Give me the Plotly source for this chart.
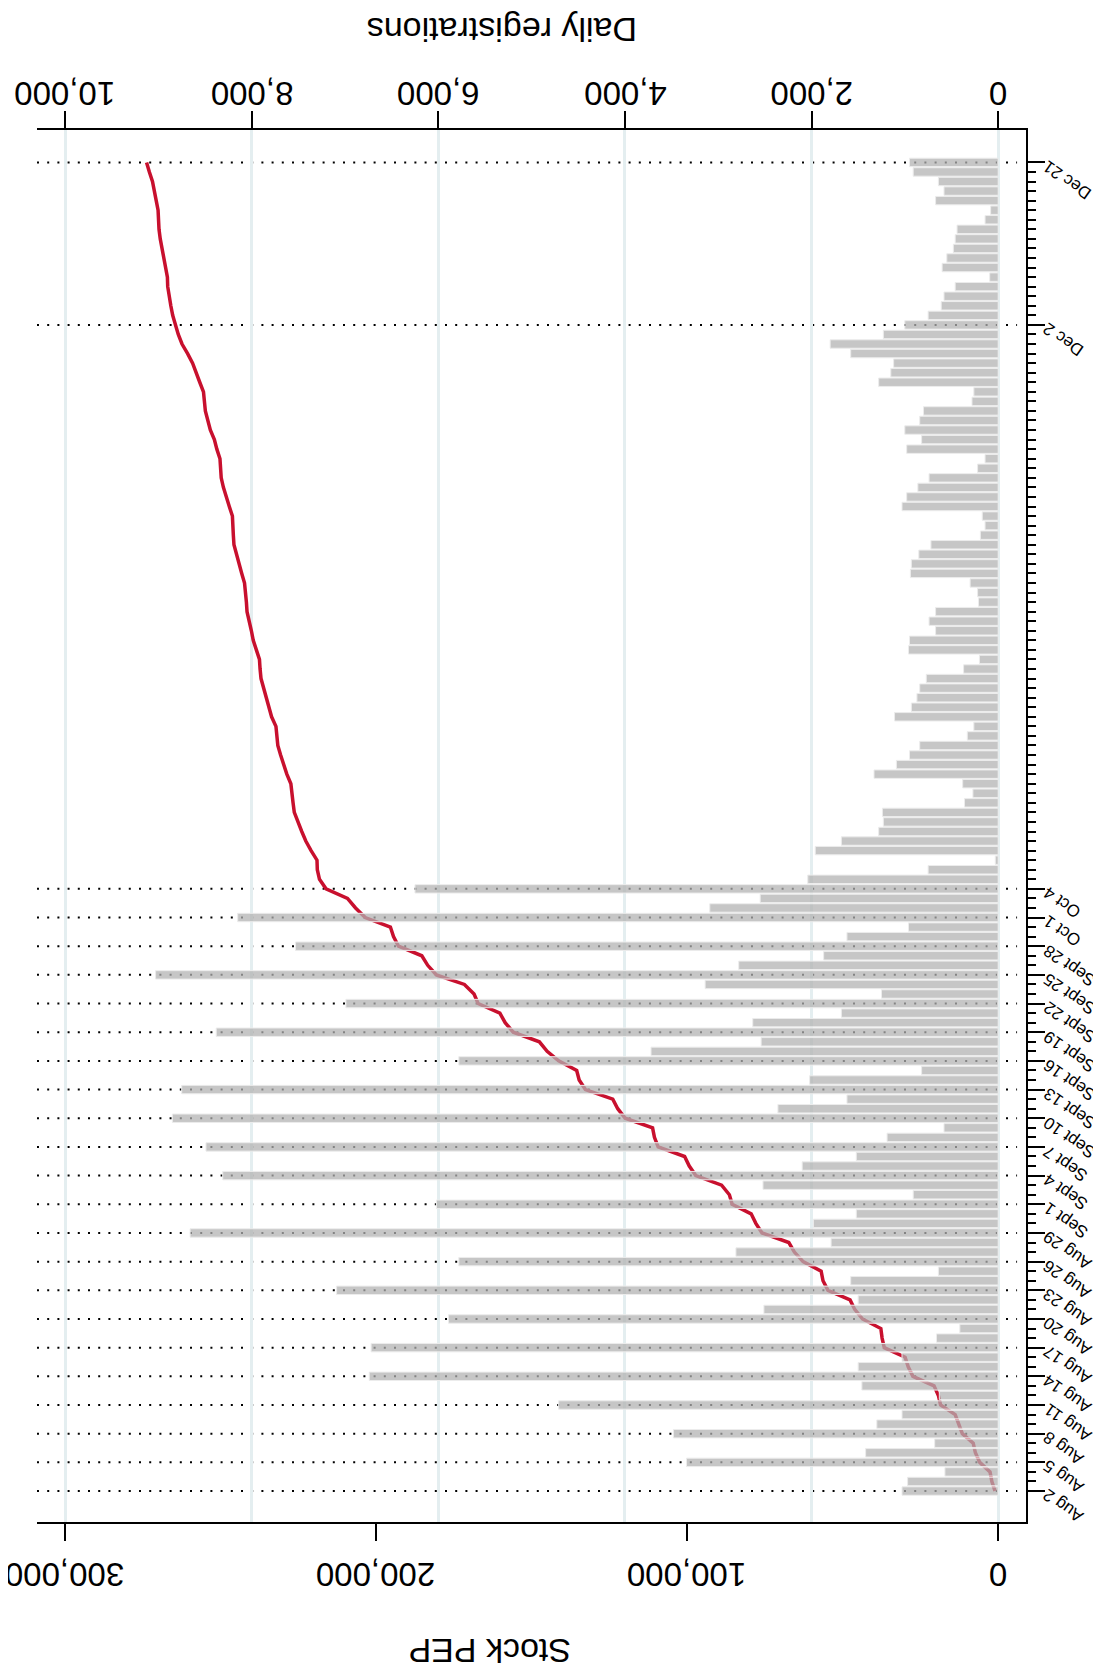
import math
import plotly.graph_objects as go

# ---------------- data ----------------
daily = [1030, 970, 570, 3340, 1420, 680, 3480, 1300, 1030, 4710,
         630, 1460, 6740, 1500, 1030, 6720, 660, 410, 5890, 2510,
         1500, 7090, 1580, 640, 5780, 2810, 1790, 8660, 1980, 1520,
         6020, 910, 2520, 8310, 2100, 1520, 8490, 1190, 580, 8850,
         2360, 1620, 8750, 2020, 820, 5780, 3720, 2540, 8380, 2630,
         1680, 6990, 1250, 3140, 9030, 2780, 1870, 7530, 1620, 960,
         8150, 3090, 2550, 6250, 2040, 750, 30, 1960, 1680, 1280,
         1230, 1240, 360, 270, 380, 1330, 1090, 950, 840, 330,
         260, 1110, 930, 870, 840, 770, 370, 200, 960, 950,
         670, 740, 670, 210, 220, 300, 940, 930, 850, 720,
         190, 140, 170, 1030, 980, 860, 740, 220, 140, 980,
         820, 1000, 840, 800, 280, 260, 1280, 1150, 1120, 1580,
         1800, 1230, 1000, 750, 610, 580, 460, 90, 600, 550,
         480, 460, 440, 140, 80, 670, 580, 640, 910, 950]

stock = [1000, 2000, 2600, 5900, 7300, 8000, 11500, 12800, 13800, 18500,
         19200, 20600, 27400, 28900, 29900, 36600, 37300, 37700, 43600, 46100,
         47600, 54700, 56300, 56900, 62700, 65500, 67300, 75900, 77900, 79400,
         85500, 86400, 88900, 97200, 99300, 100800, 109300, 110500, 111100, 119900,
         122300, 123900, 132700, 134700, 135500, 141300, 145000, 147500, 155900, 158500,
         160200, 167200, 168500, 171600, 180600, 183400, 185300, 192800, 194400, 195400,
         203500, 206600, 209200, 216100, 218200, 218900, 219000, 220900, 222600, 223900,
         225100, 226300, 226700, 227000, 227400, 228700, 229800, 230700, 231600, 231900,
         232200, 233600, 234500, 235400, 236200, 237000, 237300, 237500, 238500, 239500,
         240100, 240900, 241500, 241700, 242000, 242300, 243200, 244100, 245000, 245700,
         245900, 246000, 246200, 247200, 248200, 249100, 249800, 250000, 250200, 251200,
         252000, 253300, 254100, 254900, 255200, 255500, 256700, 257900, 259000, 260600,
         262400, 263600, 264600, 265400, 266000, 266600, 267000, 267100, 267700, 268300,
         268700, 269400, 269800, 270000, 270100, 270700, 271300, 271900, 272900, 273800]

date_labels = ["Aug 2", "Aug 5", "Aug 8", "Aug 11", "Aug 14", "Aug 17", "Aug 20",
               "Aug 23", "Aug 26", "Aug 29", "Sept 1", "Sept 4", "Sept 7", "Sept 10",
               "Sept 13", "Sept 16", "Sept 19", "Sept 22", "Sept 25", "Sept 28",
               "Oct 1", "Oct 4", "Dec 2", "Dec 21"]
date_label_pos = [0, 3, 6, 9, 12, 15, 18, 21, 24, 27, 30, 33, 36, 39, 42, 45, 48,
                  51, 54, 57, 60, 63, 122, 139]

daily_ticks = [0, 2000, 4000, 6000, 8000, 10000]
daily_tick_text = ["0", "2,000", "4,000", "6,000", "8,000", "10,000"]
stock_ticks = [0, 100000, 200000, 300000]
stock_tick_text = ["0", "100,000", "200,000", "300,000"]

# ---------------- layout constants ----------------
# The page body has an 8px default margin, so the figure is drawn 8px
# right/down of the window origin; all pixel targets below are window pixels.
OFF = 8
W, H = 1101 - OFF, 1675 - 2 * OFF
PL, PR, PT, PB = 37, 1026, 130, 1522          # plot box in window pixels
ML, MT = PL - OFF, PT - OFF
MR = W - (PR - OFF)
MB = H - (PB - OFF)
PW = PR - PL
FONT = "Liberation Sans, Arial, Helvetica, sans-serif"
RED = "#C8102E"

idx = list(range(len(daily)))

fig = go.Figure()

fig.add_trace(go.Scatter(
    x=stock, y=idx, xaxis="x", yaxis="y", mode="lines",
    line=dict(color=RED, width=3.5), hoverinfo="skip"))

fig.add_trace(go.Bar(
    x=daily, y=idx, orientation="h", xaxis="x2", yaxis="y", width=0.88,
    marker=dict(color="rgba(178,178,178,0.74)",
                line=dict(color="rgba(236,236,236,1)", width=1)),
    hoverinfo="skip"))

# dotted reference lines at labelled dates
for p in date_label_pos:
    fig.add_shape(type="line", xref="x", yref="y", x0=309030, x1=-6100,
                  y0=p, y1=p, layer="below",
                  line=dict(color="black", width=2, dash="2px,8.2px"))

# rotated date labels (upside-down, running up-left towards their tick)
cw = {"A": .667, "u": .556, "g": .556, " ": .278, "S": .667, "e": .556,
      "p": .556, "t": .278, "O": .778, "c": .5, "D": .722}
fs_d = 17
ang = 35
theta = math.radians(ang)
for lab, p in zip(date_labels, date_label_pos):
    L = sum(cw.get(ch, .556) for ch in lab) * fs_d
    hh = 12
    ex, ey = 1049, -3          # end of text (next to the tick), window px / rel. to tick
    cx = ex + (L / 2) * math.cos(theta) - (hh / 2) * math.sin(theta)
    cy = ey + (L / 2) * math.sin(theta) + (hh / 2) * math.cos(theta)
    fig.add_annotation(text=lab, xref="paper", yref="y", x=1, y=p,
                       xshift=cx - PR, yshift=-cy,
                       xanchor="center", yanchor="middle", showarrow=False,
                       textangle=-(180 - ang),
                       font=dict(family=FONT, size=fs_d, color="black"))

# numeric tick labels (upside down, centred on the ticks)
for v, t in zip(daily_ticks, daily_tick_text):
    fig.add_annotation(text=t, xref="x2", yref="paper", x=v, y=1,
                       yshift=PT - 93.5,
                       xanchor="center", yanchor="middle", showarrow=False,
                       textangle=180, font=dict(family=FONT, size=33, color="black"))
for v, t in zip(stock_ticks, stock_tick_text):
    fig.add_annotation(text=t, xref="x", yref="paper", x=v, y=0,
                       yshift=-(1574.5 - PB),
                       xanchor="center", yanchor="middle", showarrow=False,
                       textangle=180, font=dict(family=FONT, size=33, color="black"))

# axis titles (upside down)
fig.add_annotation(text="Daily registrations", xref="paper", yref="paper",
                   x=(502 - PL) / PW, y=1, yshift=PT - 30.5, xanchor="center",
                   yanchor="middle", showarrow=False, textangle=180,
                   font=dict(family=FONT, size=34, color="black"))
fig.add_annotation(text="Stock PEP", xref="paper", yref="paper",
                   x=(490 - PL) / PW, y=0, yshift=-(1651 - PB), xanchor="center",
                   yanchor="middle", showarrow=False, textangle=180,
                   font=dict(family=FONT, size=34, color="black"))

axis_common = dict(showline=True, linewidth=2, linecolor="black", ticks="outside",
                   ticklen=17, tickwidth=2, tickcolor="black", showticklabels=False,
                   zeroline=False, automargin=False)

fig.update_layout(
    width=W, height=H, margin=dict(l=ML, r=MR, t=MT, b=MB, autoexpand=False),
    paper_bgcolor="white", plot_bgcolor="white", showlegend=False,
    xaxis=dict(range=[309030, -8970], tickvals=stock_ticks, showgrid=False,
               side="bottom", anchor="y", **axis_common),
    xaxis2=dict(range=[10301, -299], tickvals=daily_ticks, overlaying="x",
                side="top", anchor="y", showgrid=True, gridcolor="#e4eef0",
                gridwidth=2.5, **axis_common),
    yaxis=dict(range=[-3.24, 142.39], side="right", anchor="x", showline=True,
               linewidth=2, linecolor="black", ticks="outside", ticklen=17,
               tickwidth=2, tickcolor="black", tickvals=date_label_pos,
               showticklabels=False, showgrid=False, zeroline=False, automargin=False,
               minor=dict(tickvals=idx, ticks="outside", ticklen=8, tickwidth=2,
                          tickcolor="black", showgrid=False)),
    bargap=0.1,
)

fig.write_html("out.html")
